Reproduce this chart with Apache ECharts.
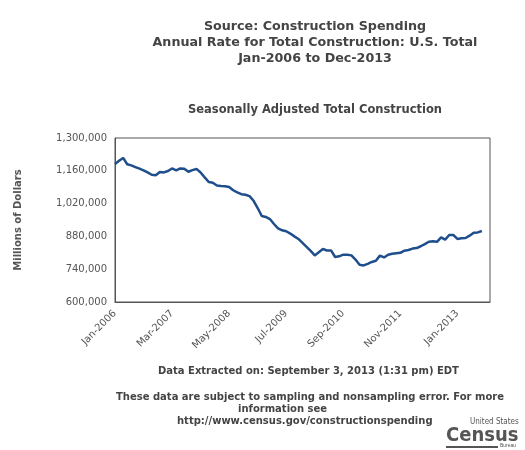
<!DOCTYPE html>
<html><head><meta charset="utf-8">
<script src="https://cdn.jsdelivr.net/npm/echarts@6/dist/echarts.min.js"></script>
<style>html,body{margin:0;padding:0;background:#fff}#c{width:525px;height:450px}</style>
</head><body><div id="c"></div>
<script>
const months=['Jan','Feb','Mar','Apr','May','Jun','Jul','Aug','Sep','Oct','Nov','Dec'];
const categories=[];
for(let y=2006;y<=2013;y++)for(const m of months){categories.push(m+'-'+y);}
const cats=categories.slice(0,93);
const values=[1189,1203,1215,1188,1183,1176,1169,1162,1153,1143,1141,1155,1153,1159,1170,1162,1170,1169,1156,1163,1168,1153,1132,1112,1109,1097,1095,1094,1091,1077,1068,1060,1058,1052,1032,1001,967,963,954,933,914,906,902,892,880,869,852,835,818,799,812,826,820,820,792,795,802,802,799,781,759,756,763,771,776,798,790,802,806,808,810,819,822,828,830,838,847,857,859,857,876,866,886,886,869,872,873,883,896,897,903].map(v=>v*1000);
const F='"DejaVu Sans", Verdana, sans-serif';
const chart=echarts.init(document.getElementById('c'));
chart.setOption({
  animation:false,
  title:[
    {text:'Source: Construction Spending\nAnnual Rate for Total Construction: U.S. Total\nJan-2006 to Dec-2013',left:310,top:14,textAlign:'center',textStyle:{fontFamily:F,fontSize:12.7,fontWeight:'bold',color:'#444',lineHeight:16}},
    {text:'Seasonally Adjusted Total Construction',left:310,top:99,textAlign:'center',textStyle:{fontFamily:F,fontSize:11.5,fontWeight:'bold',color:'#444'}}
  ],
  grid:{left:115,right:35,top:138,bottom:148},
  xAxis:{type:'category',data:cats,boundaryGap:false,
    axisLine:{lineStyle:{color:'#555'}},axisTick:{show:false},
    axisLabel:{interval:13,rotate:45,fontFamily:F,fontSize:10,color:'#555',margin:10}},
  yAxis:{type:'value',min:600000,max:1300000,interval:140000,
    name:'Millions of Dollars',nameLocation:'middle',nameGap:92,nameRotate:90,
    nameTextStyle:{fontFamily:F,fontSize:10,fontWeight:'bold',color:'#555'},
    axisLine:{show:true,lineStyle:{color:'#555'}},axisTick:{show:false},splitLine:{show:false},
    axisLabel:{fontFamily:F,fontSize:10,color:'#555',formatter:v=>v.toLocaleString('en-US')}},
  series:[{type:'line',data:values,showSymbol:false,lineStyle:{color:'#1f4e8c',width:2.5}}],
  graphic:[
    {type:'rect',shape:{x:115,y:138,width:375,height:164},style:{fill:'none',stroke:'#555',lineWidth:1}},
    {type:'text',left:158,top:366,style:{text:'Data Extracted on: September 3, 2013 (1:31 pm) EDT',font:'bold 10px '+F,fill:'#444'}},
    {type:'text',left:116,top:392,style:{text:'These data are subject to sampling and nonsampling error. For more',font:'bold 10px '+F,fill:'#444'}},
    {type:'text',left:238,top:404,style:{text:'information see',font:'bold 10px '+F,fill:'#444'}},
    {type:'text',left:177,top:416,style:{text:'http://www.census.gov/constructionspending',font:'bold 10px '+F,fill:'#444'}},
    {type:'text',left:470,top:418,style:{text:'United States',font:'8px "DejaVu Sans Condensed", sans-serif',fill:'#555'}},
    {type:'text',left:446,top:426,style:{text:'Census',font:'bold 20px "DejaVu Sans Condensed", sans-serif',fill:'#555'}},
    {type:'rect',shape:{x:446,y:446,width:52,height:2},style:{fill:'#555'}},
    {type:'text',left:500,top:443,style:{text:'Bureau',font:'5px sans-serif',fill:'#555'}}
  ]
});
</script></body></html>
